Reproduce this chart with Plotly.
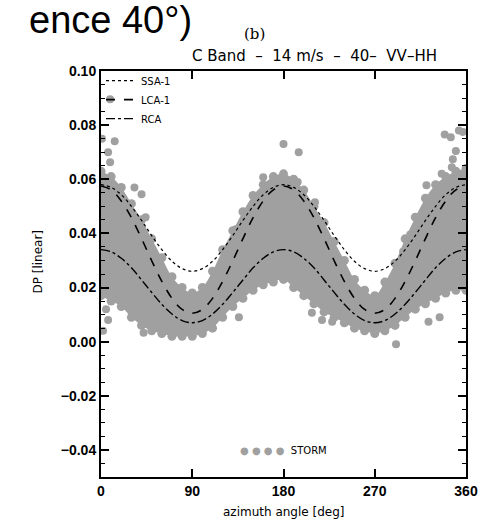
import plotly.graph_objects as go

# ---- data ----
az = [0, 10, 20, 30, 40, 50, 60, 70, 80, 90, 100, 110, 120, 130, 140, 150, 160, 170, 180,
      190, 200, 210, 220, 230, 240, 250, 260, 270, 280, 290, 300, 310, 320, 330, 340, 350, 360]

ssa1 = [0.0580, 0.0570, 0.0543, 0.0500, 0.0448, 0.0392, 0.0340, 0.0297, 0.0270, 0.0260,
        0.0270, 0.0297, 0.0340, 0.0392, 0.0448, 0.0500, 0.0543, 0.0570, 0.0580,
        0.0570, 0.0543, 0.0500, 0.0448, 0.0392, 0.0340, 0.0297, 0.0270, 0.0260,
        0.0270, 0.0297, 0.0340, 0.0392, 0.0448, 0.0500, 0.0543, 0.0570, 0.0580]
lca1 = [0.0575, 0.0561, 0.0520, 0.0458, 0.0381, 0.0299, 0.0223, 0.0160, 0.0119, 0.0105,
        0.0119, 0.0160, 0.0223, 0.0299, 0.0381, 0.0458, 0.0520, 0.0561, 0.0575,
        0.0561, 0.0520, 0.0458, 0.0381, 0.0299, 0.0223, 0.0160, 0.0119, 0.0105,
        0.0119, 0.0160, 0.0223, 0.0299, 0.0381, 0.0458, 0.0520, 0.0561, 0.0575]
rca = [0.0340, 0.0332, 0.0308, 0.0273, 0.0228, 0.0182, 0.0138, 0.0102, 0.0078, 0.0070,
       0.0078, 0.0102, 0.0138, 0.0182, 0.0228, 0.0273, 0.0308, 0.0332, 0.0340,
       0.0332, 0.0308, 0.0273, 0.0228, 0.0182, 0.0138, 0.0102, 0.0078, 0.0070,
       0.0078, 0.0102, 0.0138, 0.0182, 0.0228, 0.0273, 0.0308, 0.0332, 0.0340]

# STORM data cloud: upper / lower edges of the dense point cloud
storm_upper = [0.063, 0.061, 0.057, 0.051, 0.045, 0.038, 0.031, 0.024, 0.020, 0.018,
               0.020, 0.026, 0.034, 0.041, 0.048, 0.054, 0.058, 0.061, 0.062,
               0.060, 0.056, 0.050, 0.044, 0.037, 0.030, 0.023, 0.019, 0.017,
               0.022, 0.029, 0.038, 0.046, 0.053, 0.058, 0.061, 0.063, 0.064]
storm_lower = [0.017, 0.015, 0.013, 0.009, 0.006, 0.004, 0.003, 0.002, 0.002, 0.002,
               0.003, 0.005, 0.009, 0.013, 0.016, 0.019, 0.021, 0.022, 0.023,
               0.020, 0.017, 0.014, 0.011, 0.009, 0.007, 0.005, 0.004, 0.003,
               0.004, 0.006, 0.009, 0.012, 0.014, 0.016, 0.018, 0.019, 0.019]
# scattered STORM points outside the dense cloud
out_az = [9, 1, 13.5, 7, 9, 33, 40, 44, 180, 160, 133, 7, 42, 136, 195, 194, 211, 321, 323,
          305, 298, 339, 345, 353, 346, 350, 357, 291, 218, 208, 228, 323, 334, 347, 336, 2, 5]
out_dp = [0.0896, 0.0750, 0.0740, 0.0700, 0.0663, 0.0570, 0.0545, 0.0460, 0.0730, 0.0607,
          0.0415, 0.0080, 0.0033, 0.0090, 0.0700, 0.0590, 0.0515, 0.0578, 0.0504,
          0.0396, 0.0333, 0.0765, 0.0755, 0.0780, 0.0644, 0.0704, 0.0775, -0.0010,
          0.0080, 0.0107, 0.0074, 0.0074, 0.0090, 0.0674, 0.0620, 0.0040, 0.0120]

GRAY = "#a0a0a0"
fig = go.Figure()

fig.add_trace(go.Scatter(x=az, y=storm_lower, mode="markers+lines", line=dict(width=0, shape="spline"),
                         marker=dict(size=9, color=GRAY), showlegend=False, hoverinfo="skip"))
fig.add_trace(go.Scatter(x=az, y=storm_upper, mode="markers+lines", line=dict(width=0, shape="spline"),
                         fill="tonexty", fillcolor=GRAY,
                         marker=dict(size=9, color=GRAY), showlegend=False, hoverinfo="skip"))
fig.add_trace(go.Scatter(x=out_az, y=out_dp, mode="markers", marker=dict(size=8, color=GRAY),
                         name="STORM", showlegend=False))

fig.add_trace(go.Scatter(x=az, y=ssa1, mode="lines", name="SSA-1",
                         line=dict(color="black", width=1.2, dash="dot", shape="spline")))
fig.add_trace(go.Scatter(x=az, y=lca1, mode="lines", name="LCA-1",
                         line=dict(color="black", width=1.6, dash="dash", shape="spline")))
fig.add_trace(go.Scatter(x=az, y=rca, mode="lines", name="RCA",
                         line=dict(color="black", width=1.4, dash="dashdot", shape="spline")))

L, R, T, B = 101, 15, 71, 46
W, H = 490, 523
pw, ph = W - L - R, H - T - B

def px(xp):
    return (xp - L) / pw

def py(yp):
    return (H - B - yp) / ph

axis_common = dict(showline=True, linecolor="black", linewidth=2, mirror="allticks",
                   ticks="inside", ticklen=8, tickwidth=1.5, tickcolor="black",
                   showgrid=False, zeroline=False,
                   tickfont=dict(family="Liberation Sans", size=14, color="black", weight="bold"))

fig.update_layout(
    width=W, height=H, margin=dict(l=L, r=R, t=T, b=B),
    paper_bgcolor="white", plot_bgcolor="white",
    xaxis=dict(range=[0, 360], tickvals=[0, 90, 180, 270, 360], **axis_common),
    yaxis=dict(range=[-0.05, 0.10], tick0=0, dtick=0.02, tickformat=".2f",
               minor=dict(dtick=0.005, ticks="inside", ticklen=4, tickcolor="black", tickwidth=1.2, showgrid=False),
               **axis_common),
    legend=dict(x=0.0, y=1.012, xanchor="left", yanchor="top", bgcolor="rgba(0,0,0,0)",
                traceorder="normal",
                font=dict(family="DejaVu Sans", size=10, color="black"), tracegroupgap=0),
    showlegend=True,
)

fig.add_annotation(text="ence 40°)", xref="paper", yref="paper", x=px(196), y=py(20),
                   xanchor="right", yanchor="middle", showarrow=False,
                   font=dict(family="Liberation Sans", size=38, color="black"))
fig.add_annotation(text="(b)", xref="paper", yref="paper", x=px(258), y=py(34),
                   xanchor="center", yanchor="middle", showarrow=False,
                   font=dict(family="DejaVu Serif", size=15, color="black"))
fig.add_annotation(text="C Band  –  14 m/s  –  40–  VV–HH", xref="paper", yref="paper", x=px(320), y=py(56),
                   xanchor="center", yanchor="middle", showarrow=False,
                   font=dict(family="DejaVu Sans", size=15, color="black"))
fig.add_annotation(text="DP [linear]", xref="paper", yref="paper", x=px(36), y=py(262),
                   xanchor="center", yanchor="middle", textangle=-90, showarrow=False,
                   font=dict(family="DejaVu Sans", size=12, color="black"))
fig.add_annotation(text="azimuth angle [deg]", xref="paper", yref="paper", x=px(288), y=py(512),
                   xanchor="center", yanchor="middle", showarrow=False,
                   font=dict(family="DejaVu Sans", size=12, color="black"))
fig.add_annotation(text=f'<span style="color:{GRAY}">● ● ● ●</span>  STORM', xref="paper", yref="paper",
                   x=px(288), y=py(450), xanchor="center", yanchor="middle", showarrow=False,
                   font=dict(family="DejaVu Sans", size=10, color="black"))

fig.write_html("out.html")
